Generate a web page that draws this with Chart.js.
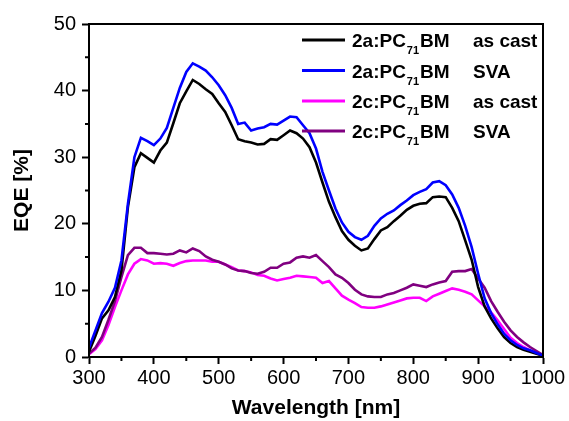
<!DOCTYPE html>
<html>
<head>
<meta charset="utf-8">
<script src="https://cdn.jsdelivr.net/npm/chart.js@4"></script>
<style>
html,body{margin:0;padding:0;background:#fff;}
#c{display:block;}
</style>
</head>
<body>
<canvas id="c" width="569" height="421"></canvas>
<script>
const wavelengths = [300,310,320,330,340,350,360,370,380,390,400,410,420,430,440,450,460,470,480,490,500,510,520,530,540,550,560,570,580,590,600,610,620,630,640,650,660,670,680,690,700,710,720,730,740,750,760,770,780,790,800,810,820,830,840,850,860,870,880,890,900,910,920,930,940,950,960,970,980,990,1000];

const eqe2aAsCast = [0.8,3.2,5.8,7.0,9.0,13.0,22.5,28.5,30.6,29.9,29.2,31.0,32.2,35.1,38.1,39.9,41.6,41.0,40.2,39.5,38.1,36.8,34.8,32.7,32.4,32.2,31.9,32.0,32.7,32.6,33.3,34.0,33.6,32.8,31.5,29.2,26.2,23.3,21.0,18.9,17.6,16.7,16.0,16.3,17.7,19.0,19.5,20.4,21.2,22.1,22.7,23.0,23.1,24.0,24.1,24.0,22.4,20.4,17.5,14.6,10.5,7.6,5.8,4.3,3.0,2.1,1.5,1.1,0.8,0.5,0.2];

const eqe2aSVA = [1.4,4.0,6.6,8.3,10.4,14.5,23.0,30.0,32.9,32.4,31.8,32.8,34.4,37.4,40.4,42.8,44.1,43.6,43.0,42.0,40.8,39.3,37.4,35.0,35.2,34.0,34.3,34.5,35.0,34.9,35.5,36.1,36.0,34.8,33.6,31.3,27.8,25.0,22.3,20.2,18.8,18.0,17.6,18.2,19.7,20.8,21.5,22.0,22.8,23.5,24.3,24.8,25.2,26.2,26.4,25.8,24.4,22.4,19.7,16.5,12.5,8.8,6.6,4.9,3.5,2.5,1.8,1.3,1.0,0.6,0.2];

const eqe2cAsCast = [0.4,1.2,2.5,4.8,7.5,10.0,12.4,14.0,14.7,14.5,14.0,14.1,14.0,13.7,14.1,14.4,14.5,14.5,14.5,14.3,14.3,13.9,13.5,13.0,12.9,12.7,12.3,12.2,11.8,11.5,11.7,11.9,12.2,12.1,12.0,11.9,11.1,11.4,10.3,9.2,8.6,8.1,7.5,7.4,7.4,7.6,7.9,8.2,8.5,8.8,8.9,8.9,8.4,9.1,9.5,9.9,10.3,10.1,9.8,9.4,8.5,7.6,6.7,5.5,4.2,2.9,2.1,1.5,1.0,0.6,0.2];

const eqe2cSVA = [0.5,1.4,3.0,5.6,8.4,12.0,15.3,16.4,16.4,15.6,15.6,15.5,15.4,15.5,16.0,15.7,16.3,15.9,15.1,14.6,14.3,13.9,13.3,13.0,12.9,12.6,12.5,12.8,13.4,13.4,14.0,14.2,14.9,15.1,14.9,15.3,14.4,13.5,12.4,11.9,11.1,10.1,9.4,9.1,9.0,9.0,9.4,9.6,10.0,10.4,10.9,10.7,10.5,10.9,11.2,11.4,12.8,12.9,12.9,13.2,11.8,10.4,8.4,6.8,5.3,4.0,3.0,2.2,1.5,0.9,0.3];

const legendCompounds = ['2a:PC', '2a:PC', '2c:PC', '2c:PC'];
const legendSub = '71';
const legendSuffix = 'BM';
const legendConditions = ['as cast', 'SVA', 'as cast', 'SVA'];
const seriesColors = ['#000000', '#0000ff', '#ff00ff', '#800080'];
const seriesValues = [eqe2aAsCast, eqe2aSVA, eqe2cAsCast, eqe2cSVA];

const xMinorTicks = [350,450,550,650,750,850,950];
const yMinorTicks = [5,15,25,35,45];

const FONT = "'Liberation Sans', Arial, sans-serif";

const datasets = seriesValues.map((vals, i) => ({
  label: legendCompounds[i] + legendSub + legendSuffix + ' ' + legendConditions[i],
  data: wavelengths.map((w, j) => ({x: w, y: vals[j]})),
  borderColor: seriesColors[i],
  backgroundColor: seriesColors[i],
  borderWidth: 2.6,
  pointRadius: 0,
  tension: 0,
  fill: false
}));
datasets.forEach((d, i) => { d.order = [2, 1, 4, 3][i]; });

const framePlugin = {
  id: 'frame',
  afterDraw(chart) {
    const {ctx, chartArea: a, scales} = chart;
    ctx.save();
    ctx.strokeStyle = '#000';
    ctx.lineWidth = 2;
    ctx.strokeRect(a.left, a.top, a.right - a.left, a.bottom - a.top);
    ctx.beginPath();
    xMinorTicks.forEach(v => {
      const px = scales.x.getPixelForValue(v);
      ctx.moveTo(px, a.bottom);
      ctx.lineTo(px, a.bottom + 4);
    });
    yMinorTicks.forEach(v => {
      const py = scales.y.getPixelForValue(v);
      ctx.moveTo(a.left, py);
      ctx.lineTo(a.left - 4, py);
    });
    ctx.stroke();

    const rowY = [40, 70.5, 101, 131];
    const lineX0 = 302, lineX1 = 345, textX = 352, condX = 473;
    rowY.forEach((y, i) => {
      ctx.strokeStyle = seriesColors[i];
      ctx.lineWidth = 3;
      ctx.beginPath();
      ctx.moveTo(lineX0, y);
      ctx.lineTo(lineX1, y);
      ctx.stroke();
      ctx.fillStyle = '#000';
      ctx.textBaseline = 'alphabetic';
      ctx.textAlign = 'left';
      const base = y + 7;
      ctx.font = 'bold 19px ' + FONT;
      ctx.fillText(legendCompounds[i], textX, base);
      let x = textX + ctx.measureText(legendCompounds[i]).width + 1;
      ctx.font = 'bold 11px ' + FONT;
      ctx.fillText(legendSub, x, base + 7);
      x += ctx.measureText(legendSub).width + 1;
      ctx.font = 'bold 19px ' + FONT;
      ctx.fillText(legendSuffix, x, base);
      ctx.fillText(legendConditions[i], condX, base);
    });
    ctx.restore();
  }
};

new Chart(document.getElementById('c'), {
  type: 'line',
  data: { datasets },
  options: {
    responsive: false,
    animation: false,
    events: [],
    layout: { padding: { left: 0, top: 24, right: 26, bottom: 0 } },
    plugins: { legend: { display: false }, tooltip: { enabled: false } },
    scales: {
      x: {
        type: 'linear',
        min: 300, max: 1000,
        afterFit(s) { s.height = 64; },
        ticks: { stepSize: 100, color: '#000', font: { family: FONT, size: 20 }, padding: 2, maxRotation: 0, callback: v => String(v) },
        grid: { drawOnChartArea: false, drawTicks: true, tickLength: 7, tickColor: '#000', tickWidth: 2 },
        border: { display: true, color: '#000', width: 2 },
        title: { display: true, text: 'Wavelength [nm]', color: '#000', font: { family: FONT, size: 21, weight: 'bold' }, padding: { top: 0, bottom: 0 } }
      },
      y: {
        type: 'linear',
        min: 0, max: 50,
        afterFit(s) { s.width = 89; },
        ticks: { stepSize: 10, color: '#000', font: { family: FONT, size: 20 }, padding: 6, callback: v => String(v) },
        grid: { drawOnChartArea: false, drawTicks: true, tickLength: 7, tickColor: '#000', tickWidth: 2 },
        border: { display: true, color: '#000', width: 2 },
        title: { display: true, text: 'EQE [%]', color: '#000', font: { family: FONT, size: 21, weight: 'bold' }, padding: { top: 10, bottom: 0 } }
      }
    }
  },
  plugins: [framePlugin]
});
</script>
</body>
</html>
